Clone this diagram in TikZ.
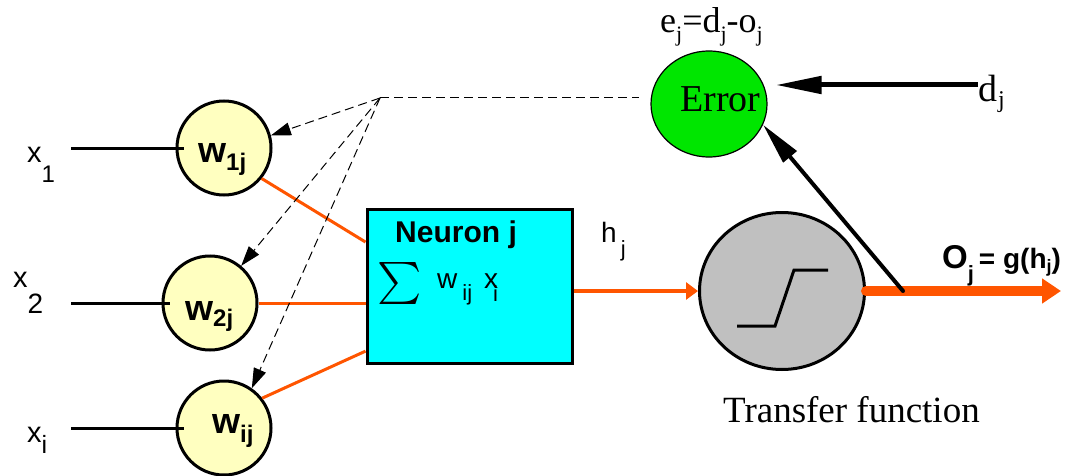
\documentclass[tikz,border=0pt]{standalone}
\usepackage{fontspec}
\setmainfont{Liberation Serif}
\setsansfont{Liberation Sans}
\usepackage{tikz}
\usetikzlibrary{arrows.meta, positioning, shapes.geometric, calc}
\definecolor{wYellow}{RGB}{255,255,192}
\definecolor{nCyan}{RGB}{0,255,255}
\definecolor{sigOrange}{RGB}{255,85,0}
\definecolor{errGreen}{RGB}{0,230,0}
\definecolor{tfGray}{RGB}{192,192,192}
\newcommand{\fsz}[1]{\fontsize{#1}{#1}\selectfont}
\newcommand{\lsub}[3]{\raisebox{-#1pt}{\fsz{#2}#3}}

\begin{document}
\begin{tikzpicture}[x=1pt, y=-1pt,
    weight/.style={circle, draw, line width=3pt, fill=wYellow,
        minimum size=94pt, inner sep=0pt},
    neuron/.style={rectangle, draw, line width=3pt, fill=nCyan,
        minimum width=205pt, minimum height=154pt},
    errnode/.style={ellipse, draw, line width=1.2pt, fill=errGreen,
        minimum width=116pt, minimum height=106pt},
    tfnode/.style={ellipse, draw, line width=3pt, fill=tfGray,
        minimum width=165pt, minimum height=157pt},
    sanslbl/.style={font=\sffamily\fsz{29}, inner sep=0pt, anchor=base west},
    wlbl/.style={font=\sffamily\bfseries\fsz{36}, inner sep=0pt, anchor=base west},
    seriflbl/.style={font=\rmfamily\fsz{37}, inner sep=0pt, anchor=base west},
    inln/.style={line width=3pt},
    oln/.style={line width=3pt, sigOrange},
    harr/.style={-{Triangle[length=12pt, width=17pt]}, line width=4.5pt, sigOrange},
    outarr/.style={-{Triangle[length=19pt, width=24pt]}, line width=10pt,
        line cap=round, sigOrange},
    barr/.style={-{Triangle[length=46pt, width=17pt]}, line width=5pt},
    fbarr/.style={-{Triangle[length=42pt, width=17pt]}, line width=4pt, line cap=round},
    dashln/.style={line width=1pt, dash pattern=on 9pt off 5pt},
    dasharr/.style={dashln, -{Triangle[length=20pt, width=13pt]}}
]
\useasboundingbox (0,0) rectangle (1078,476);

\node[weight] (w1) at (224,148) {};
\node[weight] (w2) at (210,303) {};
\node[weight] (w3) at (224,428) {};
\node[wlbl] (w1t) at (198,162) {w\lsub{8}{24}{1j}};
\node[wlbl] (w2t) at (185,320) {w\lsub{6}{24}{2j}};
\node[wlbl] (w3t) at (212,433) {w\lsub{9}{24}{ij}};

\coordinate (in1) at (71,148);
\coordinate (in2) at (71,303);
\coordinate (in3) at (71,428);
\node[sanslbl] (x1) at (27,162) {x\lsub{20}{24}{1}};
\node[sanslbl] (x2) at (13,287) {x\lsub{26}{28}{2}};
\node[sanslbl] (x3) at (27,442) {x\lsub{11}{25}{i}};

\node[neuron] (nrn) at (469.5,286) {};
\node[wlbl, font=\sffamily\bfseries\fsz{30}] (nrnt) at (395,242) {Neuron j};
\node[inner sep=0pt] (sig) at (400,283) {\scalebox{4.2}{$\sum$}};
\node[sanslbl, font=\sffamily\fsz{28}] (sumt) at (437,288)
    {w\hspace{5pt}\lsub{12}{22}{ij}\hspace{12pt}x\hspace{-5pt}\lsub{13}{22}{i}};
\node[sanslbl, font=\sffamily\fsz{28}] (hj) at (601,242) {h\hspace{4pt}\lsub{14}{22}{j}};

\node[tfnode] (tf) at (782,291) {};
\draw[line width=3pt] ([shift={(-45,35)}]tf.center) -- ++(38,0) -- ++(19,-56) -- ++(34,0);
\node[seriflbl] (tft) at (723,422) {Transfer function};

\node[errnode] (err) at (709,104) {};
\node[seriflbl, font=\rmfamily\fsz{38}] (errt) at (680,112) {Error};
\node[seriflbl, font=\rmfamily\fsz{36}] (ej) at (660,33)
    {e\lsub{9}{22}{j}=d\lsub{9}{22}{j}-o\lsub{9}{22}{j}};
\node[seriflbl, font=\rmfamily\fsz{38}] (dj) at (978,102) {d\hspace{1pt}\lsub{6}{24}{j}};

\coordinate (out) at (1061,291);
\coordinate (tap) at (903,291);
\coordinate (dsrc) at (978,85);
\coordinate (hub) at (380,98);
\node[wlbl, font=\sffamily\bfseries\fsz{28}] (oj) at (942,268)
    {{\fsz{33}O}\lsub{13}{22}{j}\hspace{5pt}= g(h\lsub{4}{18}{j})};

\draw[inln] (in1) -- ([xshift=8pt]w1.west);
\draw[inln] (in2) -- ([xshift=8pt]w2.west);
\draw[inln] (in3) -- ([xshift=8pt]w3.west);
\draw[oln] (w1.-39) -- ($(nrn.north west)!0.22!(nrn.south west)$);
\draw[oln] (w2.east) -- (w2.east -| nrn.west);
\draw[oln] (w3.38) -- ($(nrn.north west)!0.915!(nrn.south west)$);
\draw[harr] (tf.west -| nrn.east) -- (tf.west);
\draw[outarr] (tf.east) -- (out);
\draw[fbarr] (tap) -- (err.-21);
\draw[barr, shorten >=8pt] (dsrc) -- (dsrc -| err.east);
\draw[dashln, shorten >=11pt] (hub) -- (hub -| err.west);
\draw[dasharr] (hub) -- (w1.15);
\draw[dasharr] (hub) -- (w2.50);
\draw[dasharr] (hub) -- (w3.55);
\end{tikzpicture}
\end{document}
